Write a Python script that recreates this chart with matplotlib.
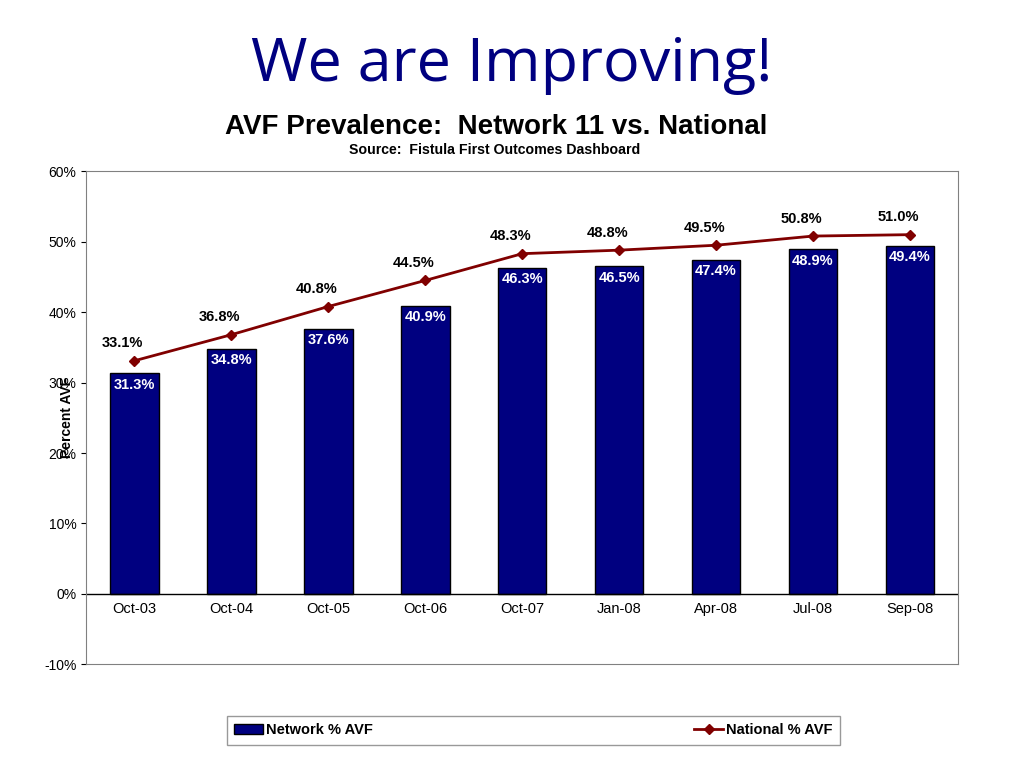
import matplotlib
matplotlib.use("Agg")
import matplotlib.pyplot as plt
from matplotlib.lines import Line2D
from matplotlib.patches import Patch

categories = ["Oct-03","Oct-04","Oct-05","Oct-06","Oct-07","Jan-08","Apr-08","Jul-08","Sep-08"]
network = [31.3,34.8,37.6,40.9,46.3,46.5,47.4,48.9,49.4]
national = [33.1,36.8,40.8,44.5,48.3,48.8,49.5,50.8,51.0]
yticks = [-10,0,10,20,30,40,50,60]

plt.rcParams['font.family'] = ['Liberation Sans','DejaVu Sans']
fig = plt.figure(figsize=(10.24,7.68), dpi=100)
ax = fig.add_axes([0.084,0.135,0.852,0.642])
x = list(range(len(categories)))
ax.bar(x, network, width=0.5, color='#000080', edgecolor='black', linewidth=1, zorder=2)
ax.plot(x, national, color='#800000', marker='D', markersize=5, linewidth=2, zorder=3)
for i,(n,m) in enumerate(zip(network,national)):
    ax.text(i, n-0.6, f"{n}%", ha='center', va='top', color='white', fontsize=10.5, fontweight='bold', zorder=4)
    ax.text(i-0.12, m+1.5, f"{m}%", ha='center', va='bottom', color='black', fontsize=10.5, fontweight='bold', zorder=4)
ax.set_xlim(-0.5, len(categories)-0.5)
ax.set_ylim(-10,60)
ax.set_yticks(yticks)
ax.set_yticklabels([f"{t}%" for t in yticks], fontsize=10)
ax.set_xticks([])
ax.axhline(0, color='black', linewidth=1)
for i,c in enumerate(categories):
    ax.text(i, -1.2, c, ha='center', va='top', fontsize=10.5)
ax.set_ylabel("Percent AVF", fontsize=10, fontweight='bold', labelpad=-22)
for s in ax.spines.values():
    s.set_color('#808080')
fig.text(0.5, 0.915, "We are Improving!", ha='center', va='center', fontsize=44, color='#000080', family=['Open Sans','DejaVu Sans'])
fig.text(0.485, 0.835, "AVF Prevalence:  Network 11 vs. National", ha='center', va='center', fontsize=20, fontweight='bold')
fig.text(0.483, 0.805, "Source:  Fistula First Outcomes Dashboard", ha='center', va='center', fontsize=10.2, fontweight='bold')
handles = [Patch(facecolor='#000080', edgecolor='black'),
           Line2D([0],[0], color='#800000', marker='D', markersize=5, linewidth=2)]
leg = fig.legend(handles, ["Network % AVF","National % AVF"], loc='center', bbox_to_anchor=(0.521,0.049),
                 ncol=2, fontsize=10.5, frameon=True, fancybox=False, edgecolor='#808080',
                 columnspacing=22, handletextpad=0.2, borderpad=0.5, borderaxespad=0)
for t in leg.get_texts():
    t.set_fontweight('bold')
fig.savefig("out.png", dpi=100)
